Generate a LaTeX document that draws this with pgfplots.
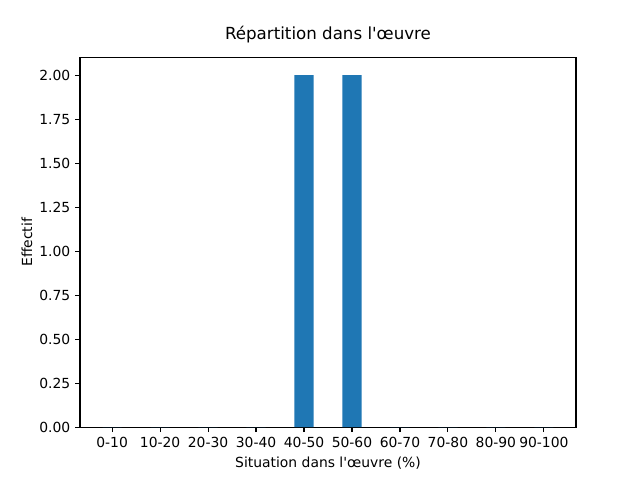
\documentclass[border=0pt]{standalone}
\usepackage{fontspec}
\setmainfont{DejaVu Sans}
\usepackage{pgfplots}
\pgfplotsset{compat=1.18}
\definecolor{mplblue}{HTML}{1F77B4}
\begin{document}
\begin{tikzpicture}
\useasboundingbox (0,0) rectangle (6.4in,4.8in);
\begin{axis}[
  at={(0.8in,0.528in)}, anchor=south west,
  scale only axis, width=4.96in, height=3.696in,
  xmin=-0.67, xmax=9.67, ymin=0, ymax=2.1,
  xtick={0,...,9},
  xticklabels={0-10,10-20,20-30,30-40,40-50,50-60,60-70,70-80,80-90,90-100},
  ytick={0,0.25,0.5,0.75,1,1.25,1.5,1.75,2},
  yticklabel style={/pgf/number format/.cd,fixed,fixed zerofill,precision=2},
  /pgf/number format/assume math mode=true,
  tick align=outside, major tick length=3.5bp,
  xtick pos=bottom, ytick pos=left,
  tick style={black, line width=0.8bp},
  axis line style={line width=0.8bp},
  ticklabel style={font=\fontsize{10bp}{12bp}\selectfont},
  xlabel={Situation dans l\textquotesingle œuvre (\%)},
  ylabel={Effectif},
  label style={font=\fontsize{10bp}{12bp}\selectfont},
  xlabel style={at={(axis description cs:0.5,-0.0974)}, anchor=center},
  ylabel style={at={(axis description cs:-0.107,0.5)}, anchor=center},
  title={Répartition dans l\textquotesingle œuvre},
  title style={font=\fontsize{12bp}{14bp}\selectfont, at={(axis description cs:0.5,1.039)}, anchor=center},
]
\addplot[ybar, bar width=0.4, fill=mplblue, draw=none] coordinates {
(0,0) (1,0) (2,0) (3,0) (4,2) (5,2) (6,0) (7,0) (8,0) (9,0)
};
\end{axis}
\end{tikzpicture}
\end{document}
